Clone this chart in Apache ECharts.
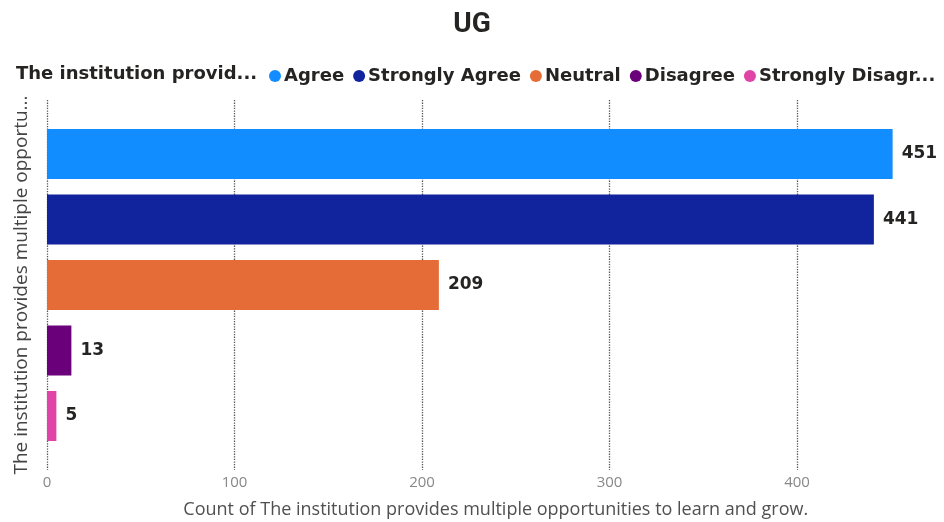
<!DOCTYPE html>
<html>
<head>
<meta charset="utf-8">
<script src="https://cdn.jsdelivr.net/npm/echarts@6/dist/echarts.min.js"></script>
<style>
  html, body { margin: 0; padding: 0; background: #fff; }
  #main { width: 944px; height: 522px; }
</style>
</head>
<body>
<div id="main"></div>
<script>
var categories = ['The institution provides multiple opportunities to learn and grow.'];
var seriesNames = ['Agree', 'Strongly Agree', 'Neutral', 'Disagree', 'Strongly Disagree'];
var seriesValues = [451, 441, 209, 13, 5];
var colors = ['#118DFF', '#12239E', '#E66C37', '#6B007B', '#E044A7'];
var xTicks = [0, 100, 200, 300, 400];

var chart = echarts.init(document.getElementById('main'));

var series = seriesNames.map(function (name, i) {
    return {
        name: name,
        type: 'bar',
        data: [seriesValues[i]],
        barWidth: 50,
        barGap: '31%',
        itemStyle: { color: colors[i] },
        label: {
            show: true,
            position: 'right',
            distance: 9,
            color: '#252423',
            fontWeight: 'bold',
            fontSize: 17,
            fontFamily: 'DejaVu Sans'
        }
    };
});

var option = {
    backgroundColor: '#fff',
    textStyle: { fontFamily: 'Open Sans' },
    title: [{
        text: 'UG',
        left: 'center',
        top: 6,
        textStyle: { fontSize: 28, fontWeight: 'bold', color: '#252423', fontFamily: 'Roboto' }
    }, {
        text: 'The institution provid...',
        left: 11,
        top: 60,
        textStyle: { fontSize: 18, fontWeight: 'bold', color: '#252423', fontFamily: 'DejaVu Sans' }
    }],
    legend: {
        left: 264,
        top: 62,
        icon: 'circle',
        itemWidth: 12,
        itemHeight: 12,
        itemGap: 9,
        data: seriesNames,
        formatter: function (name) {
            return name === 'Strongly Disagree' ? 'Strongly Disagr...' : name;
        },
        textStyle: { fontSize: 18, fontWeight: 'bold', color: '#252423', fontFamily: 'DejaVu Sans', padding: [0, 0, 0, -2] }
    },
    grid: { left: 47, top: 100, bottom: 52, width: 937.5, outerBoundsMode: 'none' },
    xAxis: {
        type: 'value',
        min: xTicks[0],
        max: 500,
        interval: 100,
        name: 'Count of The institution provides multiple opportunities to learn and grow.',
        nameLocation: 'middle',
        nameGap: 31,
        nameTextStyle: { fontSize: 18, color: '#505050', padding: [0, 40, 0, 0] },
        axisLine: { show: false },
        axisTick: { show: false },
        axisLabel: { fontSize: 15, color: '#888', margin: 5 },
        splitLine: { lineStyle: { type: 'dotted', color: '#555', width: 1.3 } }
    },
    yAxis: {
        type: 'category',
        data: categories,
        inverse: true,
        name: 'The institution provides multiple opportu...',
        nameLocation: 'middle',
        nameGap: 16,
        nameTextStyle: { fontSize: 19, color: '#444' },
        axisLine: { show: false },
        axisTick: { show: false },
        axisLabel: { show: false }
    },
    series: series
};

chart.setOption(option);
</script>
</body>
</html>
